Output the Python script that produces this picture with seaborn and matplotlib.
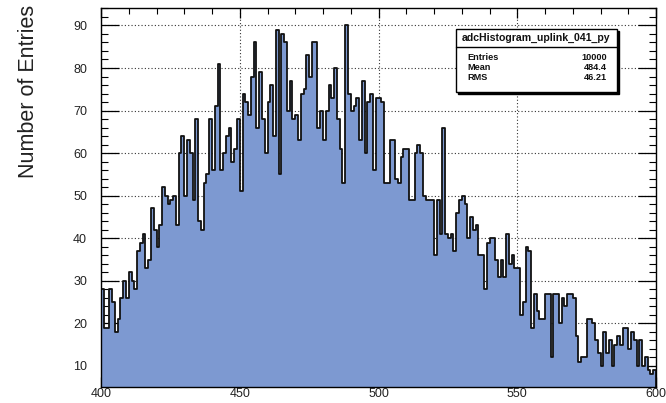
import numpy as np
import pandas as pd
import matplotlib
matplotlib.use("Agg")
import matplotlib.pyplot as plt
import seaborn as sns
from matplotlib.patches import Rectangle
from matplotlib.lines import Line2D
from matplotlib.ticker import FixedLocator, MultipleLocator

# ---------------- data ----------------
x_min, x_max, bin_width = 400, 600, 1

counts_400_449 = [28, 19, 19, 28, 25, 18, 21, 26, 30, 26,
                  32, 30, 28, 37, 39, 41, 33, 35, 47, 42,
                  38, 43, 52, 50, 48, 49, 50, 43, 60, 64,
                  50, 63, 60, 49, 68, 44, 42, 53, 55, 68,
                  56, 71, 81, 56, 60, 64, 66, 58, 61, 68]
counts_450_499 = [51, 74, 72, 69, 78, 86, 66, 79, 68, 60,
                  72, 76, 64, 89, 55, 88, 86, 70, 77, 68,
                  69, 63, 74, 75, 83, 78, 86, 86, 66, 70,
                  63, 70, 76, 73, 80, 68, 61, 53, 90, 74,
                  70, 71, 73, 63, 77, 60, 72, 74, 56, 73]
counts_500_549 = [73, 72, 53, 53, 63, 63, 54, 53, 59, 61,
                  61, 49, 49, 60, 62, 60, 50, 49, 49, 49,
                  36, 49, 41, 66, 41, 40, 41, 37, 46, 49,
                  50, 48, 40, 45, 42, 43, 36, 36, 28, 39,
                  40, 40, 35, 31, 35, 31, 41, 34, 36, 33]
counts_550_599 = [33, 22, 25, 38, 37, 19, 27, 23, 21, 21,
                  27, 27, 12, 27, 27, 20, 26, 24, 27, 27,
                  26, 17, 11, 12, 12, 21, 21, 20, 16, 13,
                  10, 18, 13, 16, 10, 15, 17, 15, 19, 19,
                  14, 18, 16, 10, 16, 10, 12, 9, 8, 9]

x_ticks = [400, 450, 500, 550, 600]
y_ticks = [10, 20, 30, 40, 50, 60, 70, 80, 90]
y_axis_title = "Number of Entries"
stats_title = "adcHistogram_uplink_041_py"
stats_labels = ["Entries", "Mean", "RMS"]
stats_values = ["10000", "484.4", "46.21"]

# ---------------- style ----------------
sns.set_theme(style="white")
plt.rcParams['font.family'] = ['Liberation Sans', 'DejaVu Sans']

counts = counts_400_449 + counts_450_499 + counts_500_549 + counts_550_599
centers = x_min + bin_width * (np.arange(len(counts)) + 0.5)
df = pd.DataFrame({"adc": centers, "entries": counts})

W, H = 666, 403
fig = plt.figure(figsize=(W / 100, H / 100), dpi=100)
fig.patch.set_facecolor("white")
L, R, T, B = 101, 656, 8, 387
ax = fig.add_axes([L / W, 1 - B / H, (R - L) / W, (B - T) / H])
ax.set_facecolor("white")

# grid below the histogram
for xv in x_ticks:
    ax.axvline(xv, color="#333333", linestyle=(0, (1, 2)), linewidth=0.8, zorder=0.5)
for yv in y_ticks:
    ax.axhline(yv, color="#333333", linestyle=(0, (1, 2)), linewidth=0.8, zorder=0.5)

sns.histplot(data=df, x="adc", weights="entries", binwidth=bin_width,
             binrange=(x_min, x_max), element="step",
             fill=True, color="#7d99d1", alpha=1, edgecolor="#111111",
             linewidth=1.3, ax=ax, zorder=1)

ax.set_xlim(x_min, x_max)
ax.set_ylim(5.05, 94.1)
ax.set_xlabel("")
ax.set_ylabel("")

ax.xaxis.set_major_locator(FixedLocator(x_ticks))
ax.xaxis.set_minor_locator(MultipleLocator(10))
ax.yaxis.set_major_locator(FixedLocator(y_ticks))
ax.yaxis.set_minor_locator(MultipleLocator(2))
ax.set_xticklabels([str(v) for v in x_ticks])
ax.set_yticklabels([str(v) for v in y_ticks])

ax.tick_params(axis="y", which="major", direction="in", length=13, width=0.9,
               left=True, right=True, pad=10, labelsize=9, labelcolor="#222222", color="black")
ax.tick_params(axis="y", which="minor", direction="in", length=5, width=0.8,
               left=True, right=True, color="black")
ax.tick_params(axis="x", which="major", direction="in", length=7.5, width=0.9,
               bottom=True, top=True, pad=1, labelsize=9, labelcolor="#222222", color="black")
ax.tick_params(axis="x", which="minor", direction="in", length=4.5, width=0.8,
               bottom=True, top=True, color="black")
for s in ax.spines.values():
    s.set_color("black")
    s.set_linewidth(1.0)
    s.set_visible(True)

# y axis title
fig.text(29 / W, 1 - 5 / H, y_axis_title, rotation=90, ha="center", va="top",
         fontsize=15.5, color="#222222")

# statistics box
bx0, bx1, by0, by1 = 456, 617, 29, 92
shadow = Rectangle(((bx0 + 2) / W, 1 - (by1 + 2) / H), (bx1 - bx0) / W, (by1 - by0) / H,
                   transform=fig.transFigure, facecolor="black", edgecolor="black",
                   linewidth=1, zorder=5)
box = Rectangle((bx0 / W, 1 - by1 / H), (bx1 - bx0) / W, (by1 - by0) / H,
                transform=fig.transFigure, facecolor="white", edgecolor="black",
                linewidth=1, zorder=6)
fig.add_artist(shadow)
fig.add_artist(box)
fig.add_artist(Line2D([bx0 / W, bx1 / W], [1 - 47 / H, 1 - 47 / H],
                      transform=fig.transFigure, color="black", linewidth=1, zorder=7))
fig.text(((bx0 + bx1) / 2) / W, 1 - 38 / H, stats_title, ha="center", va="center",
         fontsize=7.6, fontweight="bold", color="#111111", zorder=8)
row_y = [57, 67, 78]
for lab, val, yy in zip(stats_labels, stats_values, row_y):
    fig.text(467 / W, 1 - yy / H, lab, ha="left", va="center", fontsize=6.6,
             fontweight="bold", color="#111111", zorder=8)
    fig.text(607 / W, 1 - yy / H, val, ha="right", va="center", fontsize=6.6,
             fontweight="bold", color="#111111", zorder=8)

fig.savefig("out.png", dpi=100, facecolor="white")
